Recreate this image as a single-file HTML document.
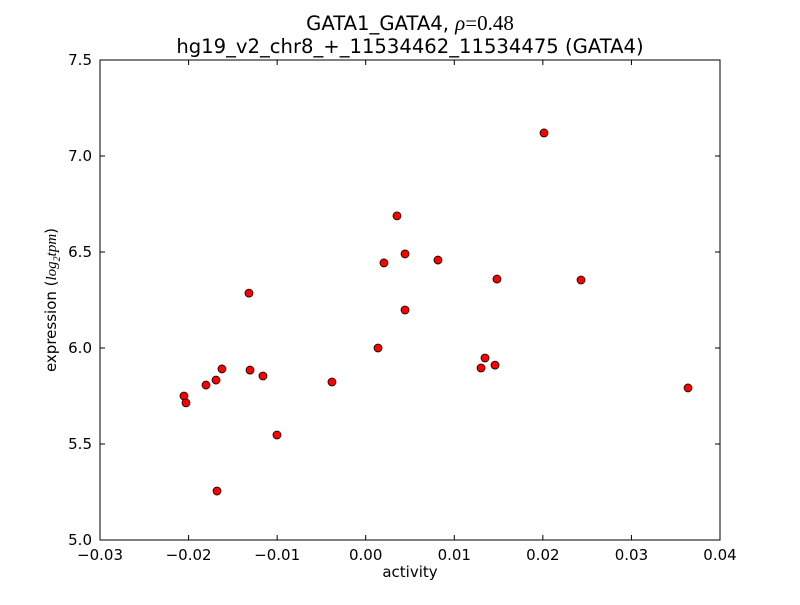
<!DOCTYPE html>
<html><head><meta charset="utf-8"><style>
body{margin:0;background:#fff;}
svg text{font-family:"DejaVu Sans","Liberation Sans",sans-serif;}
</style></head><body>
<svg id="chart" width="800" height="600" xmlns="http://www.w3.org/2000/svg">
<rect width="800" height="600" fill="#fff"/>
<text x="410" y="30" font-size="19.6" text-anchor="middle">GATA1_GATA4, <tspan font-family="Liberation Serif,serif" font-style="italic" font-size="21">ρ</tspan><tspan font-family="Liberation Serif,serif" font-size="21">=0.48</tspan></text>
<text x="410" y="53" font-size="19.6" text-anchor="middle">hg19_v2_chr8_+_11534462_11534475 (GATA4)</text>
<g id="axes"></g>
<text x="410" y="577" font-size="15" text-anchor="middle">activity</text>
<text transform="translate(56,300) rotate(-90)" font-size="15" text-anchor="middle">expression (<tspan font-family="Liberation Serif,serif" font-style="italic">log</tspan><tspan font-family="Liberation Serif,serif" font-style="italic" font-size="10" dy="4">2</tspan><tspan font-family="Liberation Serif,serif" font-style="italic" dy="-4">tpm</tspan>)</text>
</svg>
<script>
const xTicks=[-0.03,-0.02,-0.01,0.00,0.01,0.02,0.03,0.04];
const xTickLabels=["−0.03","−0.02","−0.01","0.00","0.01","0.02","0.03","0.04"];
const yTicks=[5.0,5.5,6.0,6.5,7.0,7.5];
const yTickLabels=["5.0","5.5","6.0","6.5","7.0","7.5"];
const xs=[-0.02052,-0.02029,-0.01803,-0.01690,-0.01623,-0.01679,-0.01318,-0.01306,-0.01160,-0.01002,-0.00381,0.00139,0.00206,0.00353,0.00444,0.00444,0.00816,0.01302,0.01347,0.01460,0.01482,0.02013,0.02431,0.03639];
const ys=[5.750,5.714,5.807,5.833,5.891,5.255,6.286,5.885,5.854,5.547,5.823,6.000,6.443,6.688,6.490,6.198,6.458,5.896,5.948,5.911,6.359,7.120,6.354,5.792];
const L=100,R=720,T=60,B=540,x0=-0.03,x1=0.04,y0=5.0,y1=7.5;
const sx=v=>L+(v-x0)/(x1-x0)*(R-L);
const sy=v=>B-(v-y0)/(y1-y0)*(B-T);
const NS="http://www.w3.org/2000/svg";
const g=document.getElementById('axes');
function mk(t,a){const e=document.createElementNS(NS,t);for(const k in a)e.setAttribute(k,a[k]);g.appendChild(e);return e;}
xTicks.forEach((v,i)=>{
  const x=sx(v);
  let l=mk('line',{x1:x,x2:x,y1:B,y2:B-5,stroke:'#000'});
  
  
  l=mk('line',{x1:x,x2:x,y1:T,y2:T+5,stroke:'#000'});
  
  
  const t=mk('text',{x:x,y:B+20,'font-size':15,'text-anchor':'middle'});
  t.textContent=xTickLabels[i];
  
  
});
yTicks.forEach((v,i)=>{
  const y=sy(v);
  let l=mk('line',{x1:L,x2:L+5,y1:y,y2:y,stroke:'#000'});
  
  
  l=mk('line',{x1:R,x2:R-5,y1:y,y2:y,stroke:'#000'});
  
  
  const t=mk('text',{x:L-8,y:y+5,'font-size':15,'text-anchor':'end'});
  t.textContent=yTickLabels[i];
  
  
});
xs.forEach((v,i)=>{
  const c=mk('circle',{cx:sx(v),cy:sy(ys[i]),r:4,fill:'#ff0000',stroke:'#000','stroke-width':0.8});
  
  
});
const f=mk('rect',{x:L,y:T,width:R-L,height:B-T,fill:'none',stroke:'#000','stroke-width':1});


</script>
</body></html>
